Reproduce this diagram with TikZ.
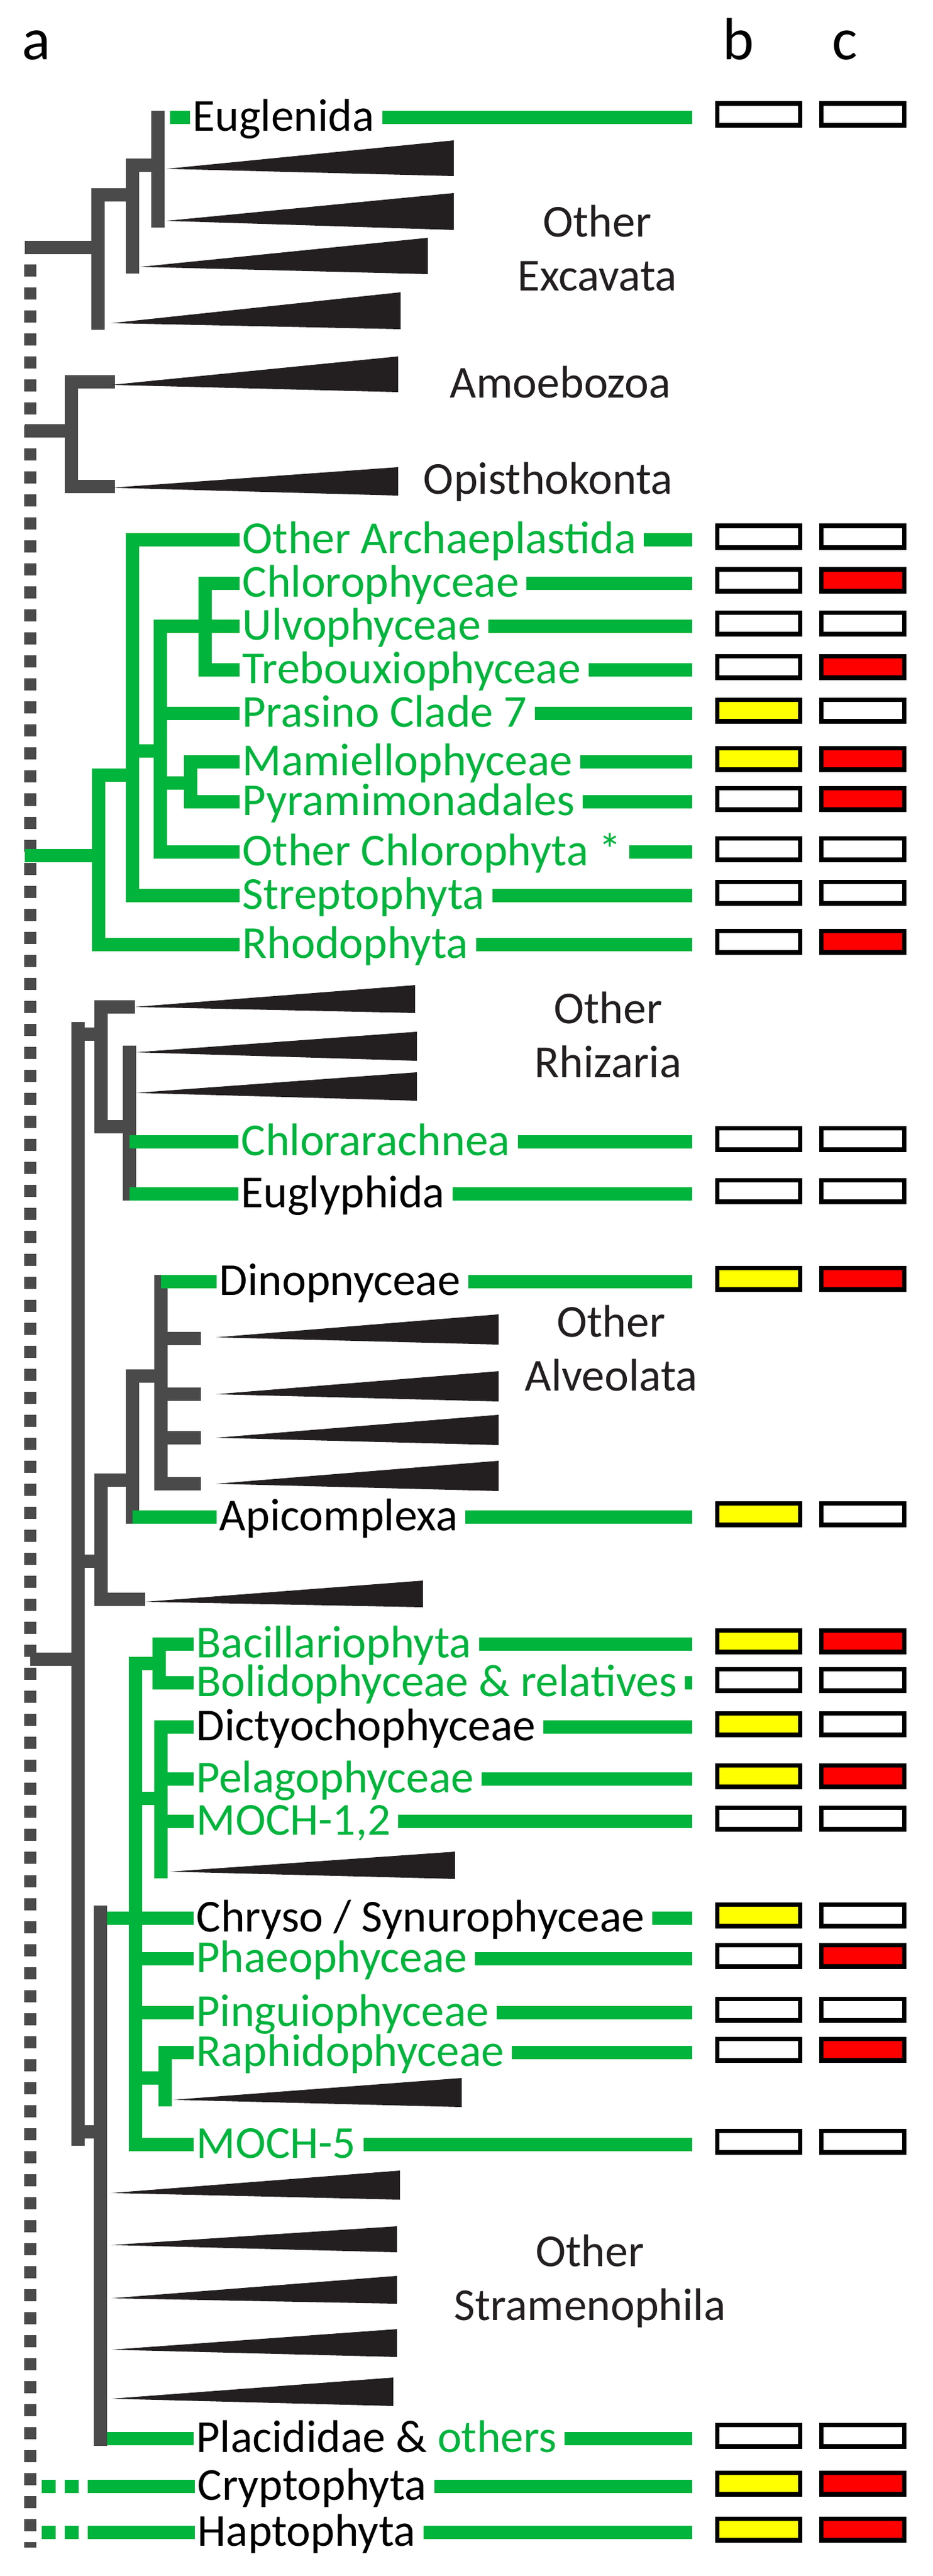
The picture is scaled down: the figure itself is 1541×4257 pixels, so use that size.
\documentclass[tikz,border=0pt]{standalone}
\usepackage{fontspec}
\setmainfont{Carlito}
\definecolor{grn}{RGB}{0,180,60}
\definecolor{tgray}{RGB}{74,74,74}
\definecolor{tri}{RGB}{35,31,32}
\definecolor{yel}{RGB}{255,255,0}
\definecolor{rd}{RGB}{255,0,0}
\tikzset{
  gtree/.style={line width=0.22cm,color=tgray,line cap=rect},
  atree/.style={line width=0.22cm,color=grn,line cap=rect},
  gline/.style={line width=0.22cm,color=grn},
  lbl/.style={anchor=base west,inner sep=0pt,font=\fontsize{21.5}{25.3}\selectfont},
  grp/.style={align=center,inner sep=0pt,text=tri,font=\fontsize{21.5}{25.3}\selectfont},
  boxb/.style={draw=black,line width=0.075cm,minimum width=1.365cm,minimum height=0.355cm,inner sep=0pt},
  hdr/.style={anchor=base,inner sep=0pt,font=\fontsize{28}{30}\selectfont},
}
\newcommand{\leaf}[8]{%
  \coordinate (#1-r) at (0,#3);
  \node[lbl,text=#6] (#1) at (#4,#3+22) {#5};
  \draw[gline] (#2,#3) -- ([xshift=-0.04cm]#1.west |- #1-r);
  \draw[gline] ([xshift=0.12cm]#1.east |- #1-r) -- (1144,#3);
  \node[boxb,fill=#7] (#1-b) at (1254,#3-5) {};
  \node[boxb,fill=#8] (#1-c) at (1426,#3-5) {};
}
\newcommand{\clade}[5]{\fill[tri] (#1,#2) -- (#3,#4) -- (#3,#5) -- cycle;}
\begin{document}
\begin{tikzpicture}[x=0.01cm,y=-0.01cm]
\useasboundingbox (0,0) rectangle (1541,4257);
% headers
\node[hdr] (ha) at (60,98) {a};
\node[hdr] (hb) at (1220,98) {b};
\node[hdr] (hc) at (1396,98) {c};
% dotted backbone
\draw[color=tgray,line width=0.2cm,dash pattern=on 0.2cm off 0.18cm] (50,437) -- (50,4210);
% Excavata
\draw[gtree] (52,409) -- (162,409);
\draw[gtree] (162,322) -- (162,534);
\draw[gtree] (162,322) -- (219,322);
\draw[gtree] (219,273) -- (219,441);
\draw[gtree] (219,273) -- (261,273);
\draw[gtree] (261,194) -- (261,365);
\clade{275}{279}{750}{232}{291}
\clade{275}{365}{750}{319}{380}
\clade{232}{441}{707}{393}{453}
\clade{184}{534}{662}{483}{544}
% Amoebozoa / Opisthokonta
\draw[gtree] (52,712) -- (118,712);
\draw[gtree] (118,631) -- (118,804);
\draw[gtree] (118,631) -- (179,631);
\draw[gtree] (118,804) -- (179,804);
\clade{184}{636}{658}{589}{648}
\clade{184}{806}{658}{772}{819}
% Archaeplastida
\draw[atree] (52,1414) -- (163,1414);
\draw[atree] (163,1281) -- (163,1561);
\draw[atree] (163,1281) -- (219,1281);
\draw[atree] (219,892) -- (219,1480);
\draw[atree] (219,1241) -- (265,1241);
\draw[atree] (265,1035) -- (265,1408);
\draw[atree] (265,1035) -- (339,1035);
\draw[atree] (339,964) -- (339,1107);
\draw[atree] (265,1294) -- (315,1294);
\draw[atree] (315,1259) -- (315,1325);
% main gray backbone
\draw[gtree] (61,2742) -- (129,2742);
\draw[gtree] (129,1700) -- (129,3535);
% Rhizaria
\draw[gtree] (129,1709) -- (167,1709);
\draw[gtree] (167,1664) -- (167,1862);
\draw[gtree] (167,1664) -- (212,1664);
\draw[gtree] (167,1862) -- (214,1862);
\draw[gtree] (214,1739) -- (214,1973);
\clade{222}{1664}{686}{1628}{1674}
\clade{224}{1739}{689}{1705}{1753}
\clade{224}{1806}{689}{1772}{1819}
% Alveolata
\draw[gtree] (129,2580) -- (167,2580);
\draw[gtree] (167,2446) -- (167,2643);
\draw[gtree] (167,2643) -- (229,2643);
\draw[gtree] (167,2446) -- (219,2446);
\draw[gtree] (219,2274) -- (219,2507);
\draw[gtree] (219,2274) -- (266,2274);
\draw[gtree] (266,2118) -- (266,2452);
\draw[gtree] (266,2212) -- (321,2212);
\draw[gtree] (266,2304) -- (321,2304);
\draw[gtree] (266,2376) -- (321,2376);
\draw[gtree] (266,2452) -- (321,2452);
\clade{357}{2210}{824}{2172}{2222}
\clade{357}{2304}{824}{2266}{2316}
\clade{357}{2376}{824}{2338}{2388}
\clade{357}{2452}{824}{2414}{2464}
\clade{240}{2647}{699}{2612}{2656}
% Stramenophila
\draw[gtree] (129,3523) -- (166,3523);
\draw[gtree] (166,3160) -- (166,4031);
\draw[atree] (224,2749) -- (224,3544);
\draw[atree] (224,2749) -- (263,2749);
\draw[atree] (263,2717) -- (263,2781);
\draw[atree] (224,2972) -- (266,2972);
\draw[atree] (266,2854) -- (266,3093);
\draw[atree] (224,3434) -- (273,3434);
\draw[atree] (273,3392) -- (273,3470);
\clade{281}{3093}{752}{3060}{3105}
\clade{286}{3470}{763}{3434}{3482}
\clade{184}{3624}{661}{3587}{3635}
\clade{184}{3710}{656}{3679}{3722}
\clade{184}{3798}{656}{3761}{3807}
\clade{184}{3883}{656}{3849}{3895}
\clade{184}{3964}{650}{3929}{3976}
% leaves
\leaf{eug}{281}{194}{318}{Euglenida}{black}{white}{white}
\leaf{oar}{219}{892}{400}{Other Archaeplastida}{grn}{white}{white}
\leaf{chl}{339}{964}{400}{Chlorophyceae}{grn}{white}{rd}
\leaf{ulv}{339}{1035}{400}{Ulvophyceae}{grn}{white}{white}
\leaf{tre}{339}{1107}{400}{Trebouxiophyceae}{grn}{white}{rd}
\leaf{pra}{265}{1179}{400}{Prasino Clade 7}{grn}{yel}{white}
\leaf{mam}{315}{1259}{400}{Mamiellophyceae}{grn}{yel}{rd}
\leaf{pyr}{315}{1325}{400}{Pyramimonadales}{grn}{white}{rd}
\leaf{och}{265}{1408}{400}{Other Chlorophyta *}{grn}{white}{white}
\leaf{str}{219}{1480}{400}{Streptophyta}{grn}{white}{white}
\leaf{rho}{163}{1561}{400}{Rhodophyta}{grn}{white}{rd}
\leaf{cra}{214}{1887}{398}{Chlorarachnea}{grn}{white}{white}
\leaf{egl}{214}{1973}{398}{Euglyphida}{black}{white}{white}
\leaf{din}{266}{2118}{362}{Dinopnyceae}{black}{yel}{rd}
\leaf{api}{219}{2507}{362}{Apicomplexa}{black}{yel}{white}
\leaf{bac}{263}{2717}{324}{Bacillariophyta}{grn}{yel}{rd}
\leaf{bol}{263}{2781}{324}{Bolidophyceae \& relatives}{grn}{white}{white}
\leaf{dic}{266}{2854}{324}{Dictyochophyceae}{black}{yel}{white}
\leaf{pel}{266}{2940}{324}{Pelagophyceae}{grn}{yel}{rd}
\leaf{mo1}{266}{3010}{324}{MOCH-1,2}{grn}{white}{white}
\leaf{chr}{177}{3170}{324}{Chryso / Synurophyceae}{black}{yel}{white}
\leaf{pha}{224}{3237}{324}{Phaeophyceae}{grn}{white}{rd}
\leaf{pin}{224}{3326}{324}{Pinguiophyceae}{grn}{white}{white}
\leaf{rap}{273}{3392}{324}{Raphidophyceae}{grn}{white}{rd}
\leaf{mo5}{224}{3544}{324}{MOCH-5}{grn}{white}{white}
\leaf{pla}{177}{4030}{324}{Placididae \& {\color{grn}others}}{black}{white}{white}
\leaf{cry}{145}{4109}{326}{Cryptophyta}{black}{yel}{rd}
\leaf{hap}{145}{4185}{326}{Haptophyta}{black}{yel}{rd}
\draw[gline] (69,4109) -- (92,4109);
\draw[gline] (107,4109) -- (130,4109);
\draw[gline] (69,4185) -- (92,4185);
\draw[gline] (107,4185) -- (130,4185);
% group labels
\node[grp] (gex) at (987,410) {Other\\Excavata};
\node[grp] (gam) at (926,632) {Amoebozoa};
\node[grp] (gop) at (906,796) {Opisthokonta};
\node[grp] (grh) at (1005,1710) {Other\\Rhizaria};
\node[grp] (gal) at (1010,2228) {Other\\Alveolata};
\node[grp] (gst) at (975,3770) {Other\\Stramenophila};
\end{tikzpicture}
\end{document}
